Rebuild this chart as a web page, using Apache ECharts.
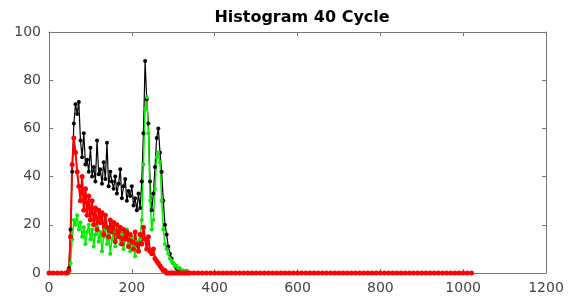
<!DOCTYPE html>
<html><head><meta charset="utf-8">
<script src="https://cdn.jsdelivr.net/npm/echarts@6/dist/echarts.min.js"></script>
<style>html,body{margin:0;padding:0;background:#fff}#c{width:568px;height:303px}</style>
</head><body><div id="c"></div>
<script>
const headX = [0, 10, 20, 30, 40];
const activeX = [44,48,52,56,60,64,68,72,76,80,84,88,92,96,100,104,108,112,116,120,124,128,132,136,140,144,148,152,156,160,164,168,172,176,180,184,188,192,196,200,204,208,212,216,220,224,228,232,236,240,244,248,252,256,260,264,268,272,276,280,284,288,292,296,300,304,308,312,316,320,324,328,332,336,340];
const tailX = [350,360,370,380,390,400,410,420,430,440,450,460,470,480,490,500,510,520,530,540,550,560,570,580,590,600,610,620,630,640,650,660,670,680,690,700,710,720,730,740,750,760,770,780,790,800,810,820,830,840,850,860,870,880,890,900,910,920,930,940,950,960,970,980,990,1000,1010,1020];
const headY = [0, 0, 0, 0, 0];
const blackY = [0,2,18,42,62,70,66,71,55,48,58,45,47,42,52,40,44,38,55,41,43,37,46,39,54,36,42,38,35,40,33,37,43,31,36,39,30,34,32,36,28,31,26,33,27,38,58,88,72,62,38,26,33,44,56,60,50,42,30,20,16,11,8,6,4,3,2,1,1,0,0,0,0,0,0];
const greenY = [0,0,4,14,22,20,24,18,21,15,19,12,17,20,14,18,11,16,19,13,17,9,15,18,12,16,8,14,17,11,15,19,12,16,10,14,18,12,9,15,11,7,13,9,14,22,45,68,73,58,30,18,22,35,48,50,46,30,18,12,10,8,6,5,4,3,3,2,2,1,1,0,1,0,0];
const redY = [0,1,15,45,56,50,42,36,30,40,26,35,24,32,22,30,20,27,18,26,21,25,16,24,19,15,22,17,21,13,20,15,19,12,18,14,17,11,16,13,10,17,12,9,16,12,19,14,10,15,9,8,10,6,5,4,3,2,1,1,0,0,0,0,0,0,0,0,0,0,0,0,0,0,0];
const redTailY = [0,0,0,0,0,0,0,0,0,0,0,0,0,0,0,0,0,0,0,0,0,0,0,0,0,0,0,0,0,0,0,0,0,0,0,0,0,0,0,0,0,0,0,0,0,0,0,0,0,0,0,0,0,0,0,0,0,0,0,0,0,0,0,0,0,0,0,0];
const xTicks = [0, 200, 400, 600, 800, 1000, 1200];
const yTicks = [0, 20, 40, 60, 80, 100];

function pairs(xs, ys) { return xs.map((x, i) => [x, ys[i]]); }
const blackData = pairs(headX.concat(activeX), headY.concat(blackY));
const greenData = pairs(headX.concat(activeX), headY.concat(greenY));
const redData = pairs(headX.concat(activeX, tailX), headY.concat(redY, redTailY));

const chart = echarts.init(document.getElementById('c'), null, {renderer: 'canvas'});
const axisCol = '#777';
const labelStyle = {color: '#444', fontSize: 14, fontFamily: 'DejaVu Sans', formatter: v => String(v)};
function xa(pos, show) {
  return {type: 'value', position: pos, min: xTicks[0], max: xTicks[xTicks.length-1], interval: 200,
    axisLine: {show: true, onZero: false, lineStyle: {color: axisCol, width: 1}},
    axisTick: {show: true, inside: true, length: 4, lineStyle: {color: axisCol}},
    axisLabel: {show: show, ...labelStyle, margin: 8},
    splitLine: {show: false}};
}
function ya(pos, show) {
  return {type: 'value', position: pos, min: yTicks[0], max: yTicks[yTicks.length-1], interval: 20,
    axisLine: {show: true, onZero: false, lineStyle: {color: axisCol, width: 1}},
    axisTick: {show: true, inside: true, length: 4, lineStyle: {color: axisCol}},
    axisLabel: {show: show, ...labelStyle, margin: 8},
    splitLine: {show: false}};
}
function ser(name, data, color, lw, ss) {
  return {name, type: 'line', data, xAxisIndex: 0, yAxisIndex: 0,
    symbol: 'circle', symbolSize: ss, showSymbol: true,
    itemStyle: {color}, lineStyle: {color, width: lw}, animation: false};
}
chart.setOption({
  animation: false,
  title: {text: 'Histogram 40 Cycle', left: 297, top: 5, textAlign: 'center',
    textStyle: {fontSize: 16, fontWeight: 'bold', color: '#000', fontFamily: 'DejaVu Sans'}},
  grid: {left: 49, right: 22, top: 32, bottom: 30},
  xAxis: [xa('bottom', true), xa('top', false)],
  yAxis: [ya('left', true), ya('right', false)],
  series: [
    ser('black', blackData, '#000000', 1.2, 4),
    ser('green', greenData, '#00ee00', 1.5, 4),
    ser('red', redData, '#ff0000', 2, 5)
  ]
});
</script></body></html>
